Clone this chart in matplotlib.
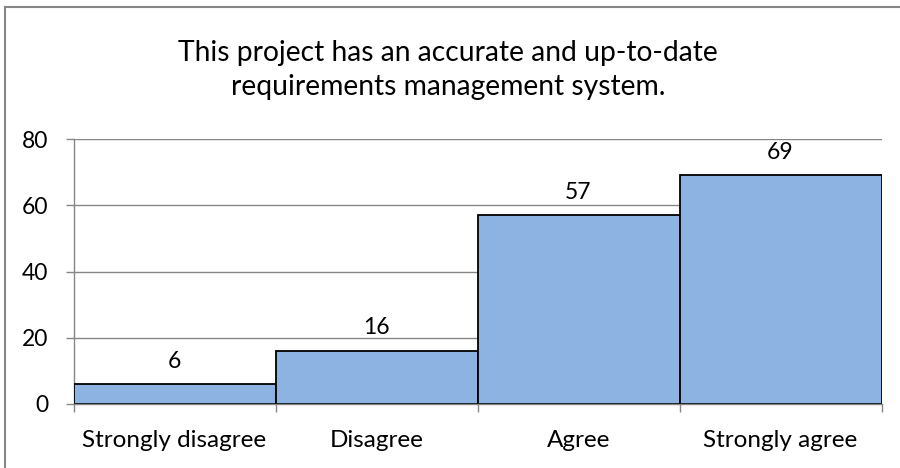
import matplotlib
matplotlib.use("Agg")
import matplotlib.pyplot as plt
from matplotlib.lines import Line2D

categories = ["Strongly disagree", "Disagree", "Agree", "Strongly agree"]
values = [6, 16, 57, 69]
yticks = [0, 20, 40, 60, 80]
title = "This project has an accurate and up-to-date\nrequirements management system."

plt.rcParams['font.family'] = ['Lato', 'DejaVu Sans']

fig = plt.figure(figsize=(9, 4.68), dpi=100)
ax = fig.add_axes([73.5/900, 1-404/468, 808/900, 265/468])

x = list(range(len(categories)))
ax.bar(x, values, width=1.0, color="#8DB3E2", edgecolor="black", linewidth=1.3, zorder=3)
for xi, v in zip(x, values):
    ax.annotate(str(v), (xi, v), xytext=(0, 9), textcoords="offset points",
                ha="center", va="bottom", fontsize=16.5, color="black")

ax.set_xlim(-0.5, len(categories) - 0.5)
ax.set_ylim(0, 80)
ax.set_yticks(yticks)
ax.set_xticks(x)
ax.set_xticklabels(categories)
ax.set_xticks([i - 0.5 for i in range(len(categories) + 1)], minor=True)
ax.tick_params(axis="x", which="major", length=0, pad=19, labelsize=17.5)
ax.tick_params(axis="x", which="minor", length=6, color="#868686", width=1)
ax.tick_params(axis="y", length=6, color="#868686", width=1, labelsize=16.5, pad=12)
ax.grid(axis="y", color="#868686", linewidth=1, zorder=0)
for s in ["top", "right"]:
    ax.spines[s].set_visible(False)
for s in ["left", "bottom"]:
    ax.spines[s].set_color("#868686")
    ax.spines[s].set_linewidth(1)
ax.spines["bottom"].set_zorder(4)

fig.text(448/900, 1-70/468, title, ha="center", va="center", fontsize=20.3,
         linespacing=1.35)

fig.add_artist(Line2D([5/900, 5/900], [0, 1-7/468], color="#868686", linewidth=1.5,
                      transform=fig.transFigure))
fig.add_artist(Line2D([5/900, 1], [1-7/468, 1-7/468], color="#868686", linewidth=1.5,
                      transform=fig.transFigure))

fig.savefig("out.png", dpi=100)
